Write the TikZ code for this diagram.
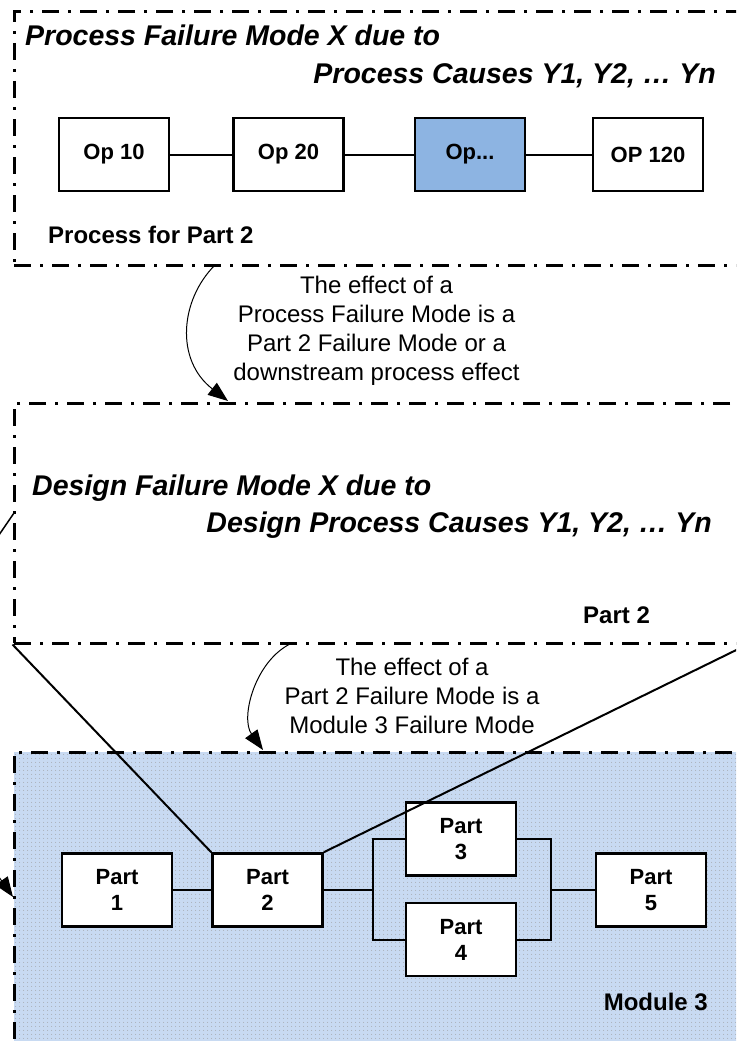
\documentclass[tikz,border=0pt]{standalone}
\usepackage{fontspec}
\setmainfont{Liberation Sans}
\usetikzlibrary{arrows.meta,patterns.meta,calc}

\definecolor{opblue}{RGB}{141,180,226}
\definecolor{modblue}{RGB}{200,218,242}

\begin{document}
\begin{tikzpicture}[x=1pt, y=-1pt,
    frame/.style={line width=3pt, dash pattern=on 17pt off 9pt on 3pt off 9pt, minimum width=732pt, inner sep=0pt},
    opbox/.style={draw, fill=white, line width=2.5pt, minimum width=110pt, minimum height=73pt, align=center, font=\fontsize{22}{26}\selectfont\bfseries},
    title/.style={inner sep=0pt, font=\fontsize{28.5}{33}\selectfont\bfseries\itshape},
    tag/.style={inner sep=0pt, font=\fontsize{24}{28}\selectfont\bfseries},
    note/.style={inner sep=0pt, align=center, font=\fontsize{24}{29}\selectfont},
    link/.style={line width=2pt},
    effect/.style={line width=1pt, -{Triangle[length=20pt,width=15pt]}}
]
    \useasboundingbox (0,0) rectangle (736,1041);
    \clip (0,0) rectangle (736,1041);

    % Process frame
    \node[frame, draw, minimum height=253pt] (process) at (380,138.5) {};
    \node[title, anchor=base west] (ptitle1) at (25,46) {Process Failure Mode X due to};
    \node[title, anchor=base east] (ptitle2) at (716,84) {Process Causes Y1, Y2, … Yn};

    \node[opbox] (op10) at (114,154.5) {Op 10};
    \node[opbox] (op20) at (288.5,154.5) {Op 20};
    \node[opbox, fill=opblue] (opx) at (470,154.5) {Op...};
    \node[opbox] (op120) at (648,154.5) {OP 120};
    \draw[link] (op10) -- (op20);
    \draw[link] (op20) -- (opx);
    \draw[link] (opx) -- (op120);
    \node[tag, anchor=base west] (plabel) at (48,243) {Process for Part 2};

    % Design frame
    \node[frame, draw, minimum height=240pt] (design) at (380,523) {};
    \node[title, anchor=base west] (dtitle1) at (32,495) {Design Failure Mode X due to};
    \node[title, anchor=base east] (dtitle2) at (712,532) {Design Process Causes Y1, Y2, … Yn};
    \node[tag, anchor=base west] (dlabel) at (583,623) {Part 2};

    % first effect
    \node[note, anchor=base] (note1) at (376.5,380) {The effect of a\\Process Failure Mode is a\\Part 2 Failure Mode or a\\downstream process effect};
    \coordinate (e1s) at (215,265);
    \coordinate (e1e) at (228,401);
    \draw[effect] (e1s) .. controls (180,300) and (175,360) .. (e1e);

    % Module frame
    \node[frame, draw, minimum height=318pt, preaction={fill=modblue}, pattern={Dots[distance=4pt, radius=0.55pt]}, pattern color=black!40] (module) at (380,911) {};
    \node[tag, anchor=base east] (mlabel) at (708,1010) {Module 3};

    % second effect
    \node[note, anchor=base] (note2) at (412,733) {The effect of a\\Part 2 Failure Mode is a\\Module 3 Failure Mode};
    \coordinate (e2s) at (292,643);
    \coordinate (e2e) at (263,750);
    \draw[effect] (e2s) .. controls (255,660) and (240,718) .. (e2e);

    % parts
    \node[opbox] (part1) at (117,890) {Part\\1};
    \node[opbox] (part2) at (267.5,890) {Part\\2};
    \node[opbox] (part3) at (461,839) {Part\\3};
    \node[opbox] (part4) at (461,939.5) {Part\\4};
    \node[opbox] (part5) at (651,890) {Part\\5};
    \coordinate (splitL) at (373,890);
    \coordinate (splitR) at (551,890);
    \draw[link] (part1) -- (part2);
    \draw[link] (part2) -- (splitL);
    \draw[link] (part3.west) -| (splitL) |- (part4.west);
    \draw[link] (part3.east) -| (splitR) |- (part4.east);
    \draw[link] (splitR) -- (part5);

    % zoom lines
    \draw[link] (design.south west) -- (part2.north west);
    \draw[link] (part2.north east) -- (design.south east);

    % cut off at the left edge
    \coordinate (leftA) at (-12,551);
    \coordinate (leftB) at (14,513);
    \draw[line width=1.5pt] (leftA) -- (leftB);
    \coordinate (leftC) at (-45,815);
    \coordinate (leftD) at (13,897);
    \draw[effect] (leftC) .. controls (-20,850) .. (leftD);
\end{tikzpicture}
\end{document}
